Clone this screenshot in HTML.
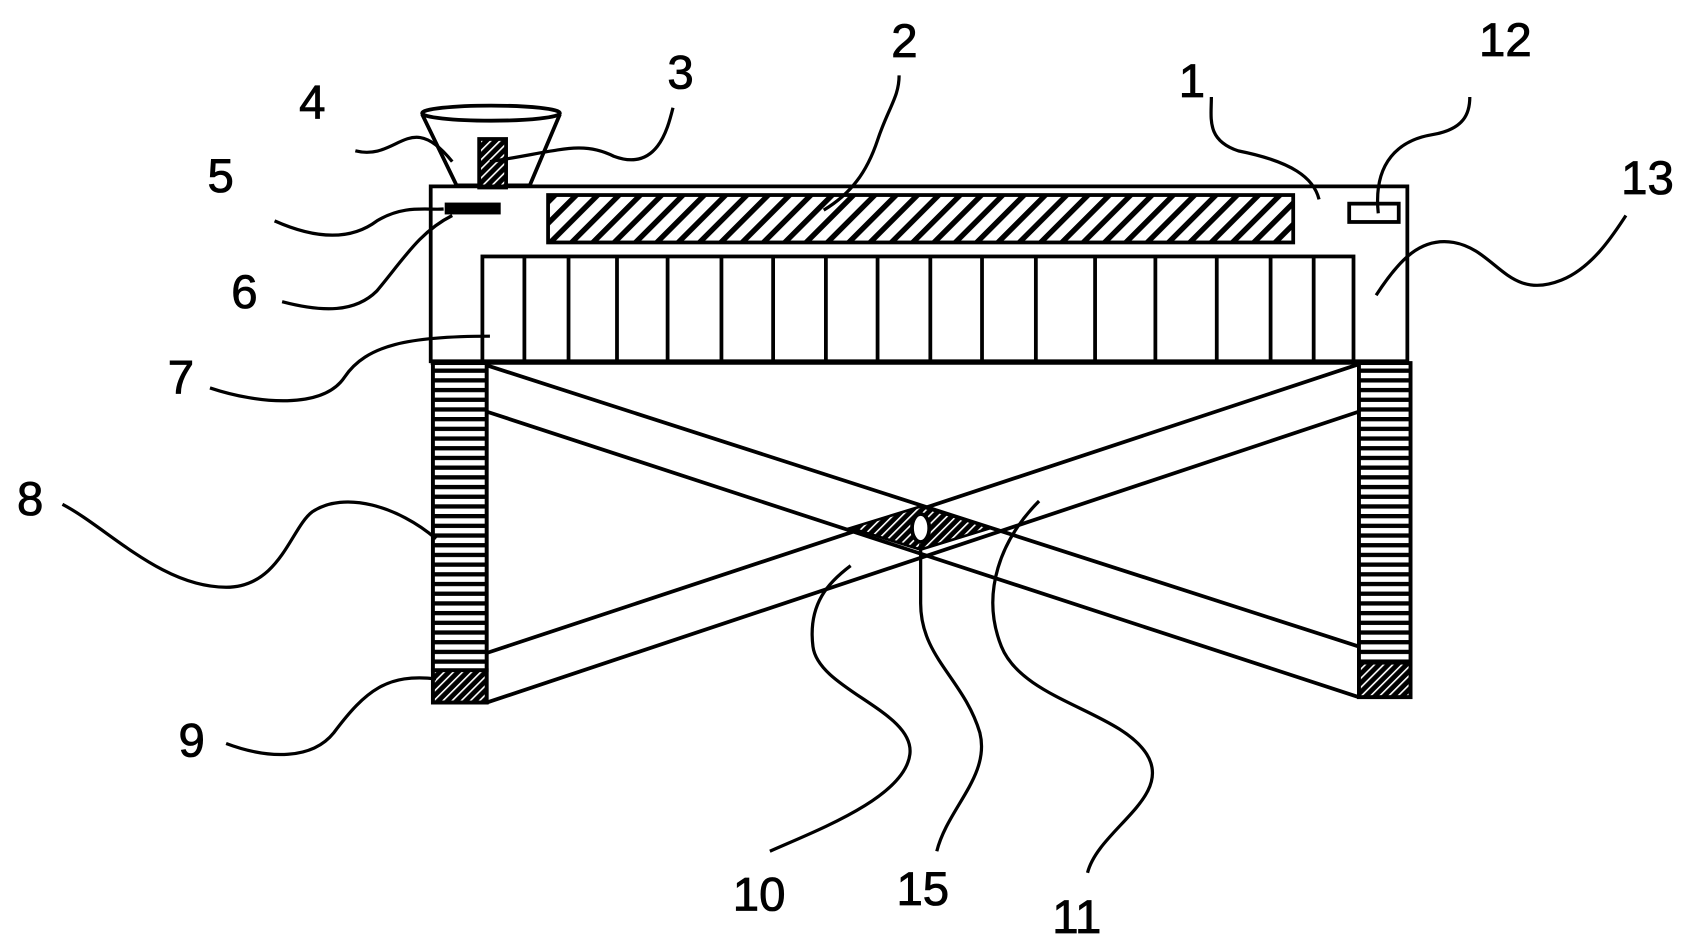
<!DOCTYPE html>
<html><head><meta charset="utf-8"><style>
html,body{margin:0;padding:0;background:#fff;}
svg{display:block;}
text{font-family:"Liberation Sans",sans-serif;font-size:44px;fill:#000;text-anchor:middle;stroke:#000;stroke-width:0.8;}
</style></head><body>
<svg width="1683" height="945" viewBox="0 0 1563 877" preserveAspectRatio="none" xmlns="http://www.w3.org/2000/svg">
<defs>
<pattern id="h" width="14" height="14" patternUnits="userSpaceOnUse" patternTransform="rotate(45)">
<rect width="14" height="14" fill="#fff"/><rect width="5" height="14" fill="#000"/></pattern>
<pattern id="d" width="6" height="6" patternUnits="userSpaceOnUse" patternTransform="rotate(45)">
<rect width="6" height="6" fill="#000"/><rect width="1.5" height="6" fill="#fff"/></pattern>
<pattern id="hz" width="10" height="9" patternUnits="userSpaceOnUse">
<rect width="10" height="9" fill="#fff"/><rect width="10" height="4" fill="#000"/></pattern>
</defs>
<g stroke="#000" stroke-width="3.5" fill="none">
<!-- funnel -->
<path d="M424 172 L392 108 L492 172 Z" fill="none" stroke="none"/>
<path d="M392 106 L424 172 L492 172 L520 106" fill="#fff"/>
<ellipse cx="456" cy="105" rx="64" ry="7" fill="#fff"/>
<rect x="445" y="129" width="25" height="45" fill="url(#d)"/>
<!-- top box -->
<path d="M400 337 L400 173 L1307 173 L1307 337"/>
<rect x="509" y="181" width="692" height="44" fill="url(#h)"/>
<rect x="414" y="189" width="50" height="9" fill="#000" stroke-width="2"/>
<rect x="1253" y="189" width="46" height="17"/>
<rect x="448" y="238" width="809" height="98"/>
<path d="M487 238V336M528 238V336M573 238V336M620 238V336M670 238V336M718 238V336M767 238V336M815 238V336M864 238V336M912 238V336M962 238V336M1017 238V336M1073 238V336M1130 238V336M1180 238V336M1220 238V336"/>
<line x1="400" y1="336" x2="1307" y2="336" stroke-width="5"/>
<!-- columns -->
<rect x="402" y="337" width="50" height="285" fill="url(#hz)"/>
<rect x="402" y="622" width="50" height="30" fill="url(#d)"/>
<rect x="402" y="337" width="50" height="315"/>
<rect x="1262" y="337" width="48" height="278" fill="url(#hz)"/>
<rect x="1262" y="615" width="48" height="32" fill="url(#d)"/>
<rect x="1262" y="337" width="48" height="310"/>
<!-- scissors -->
<line x1="452" y1="339" x2="1262" y2="600"/>
<line x1="452" y1="382" x2="1262" y2="647"/>
<line x1="452" y1="606" x2="1262" y2="338"/>
<line x1="452" y1="652" x2="1262" y2="382"/>
<path d="M790 490 L855 470 L920 490 L855 510 Z" fill="url(#d)" stroke-width="2.5"/>
<ellipse cx="855" cy="490" rx="8" ry="13" fill="#fff"/>
<!-- leaders -->
<g stroke-width="3">
<path d="M330 140 C370 150 380 100 420 150"/>
<path d="M455 150 C520 140 540 130 570 145 C610 160 620 120 625 100"/>
<path d="M765 195 C790 180 805 160 815 130 C825 100 835 90 835 70"/>
<path d="M1225 185 C1220 165 1200 150 1150 140 C1120 130 1125 110 1125 90"/>
<path d="M1280 198 C1275 150 1300 130 1330 125 C1360 120 1365 105 1365 90"/>
<path d="M1278 274 C1300 240 1320 220 1350 225 C1390 232 1400 280 1450 260 C1480 248 1500 215 1510 200"/>
<path d="M255 205 C300 225 330 220 350 205 C375 190 395 195 412 194"/>
<path d="M262 280 C300 290 330 290 350 270 C375 240 390 215 420 200"/>
<path d="M195 360 C240 375 300 380 320 350 C340 320 380 312 455 312"/>
<path d="M58 468 C100 490 150 545 210 545 C260 545 270 490 290 475 C320 455 370 470 405 500"/>
<path d="M210 690 C250 705 290 705 310 680 C340 640 360 625 405 630"/>
<path d="M715 790 C760 770 840 740 845 700 C850 660 760 640 755 600 C750 560 770 540 790 525"/>
<path d="M870 790 C880 750 920 720 910 680 C895 630 855 610 855 560 L855 505"/>
<path d="M1010 810 C1020 770 1090 740 1065 700 C1040 660 950 650 930 600 C910 550 930 500 965 465"/>
</g>
</g>
<text x="290" y="110">4</text>
<text x="632" y="82">3</text>
<text x="840" y="53">2</text>
<text x="1107" y="90">1</text>
<text x="1398" y="52">12</text>
<text x="1530" y="180">13</text>
<text x="205" y="178">5</text>
<text x="227" y="286">6</text>
<text x="168" y="365">7</text>
<text x="28" y="478">8</text>
<text x="178" y="702">9</text>
<text x="705" y="845">10</text>
<text x="857" y="840">15</text>
<text x="1000" y="866">11</text>
</svg>
</body></html>
